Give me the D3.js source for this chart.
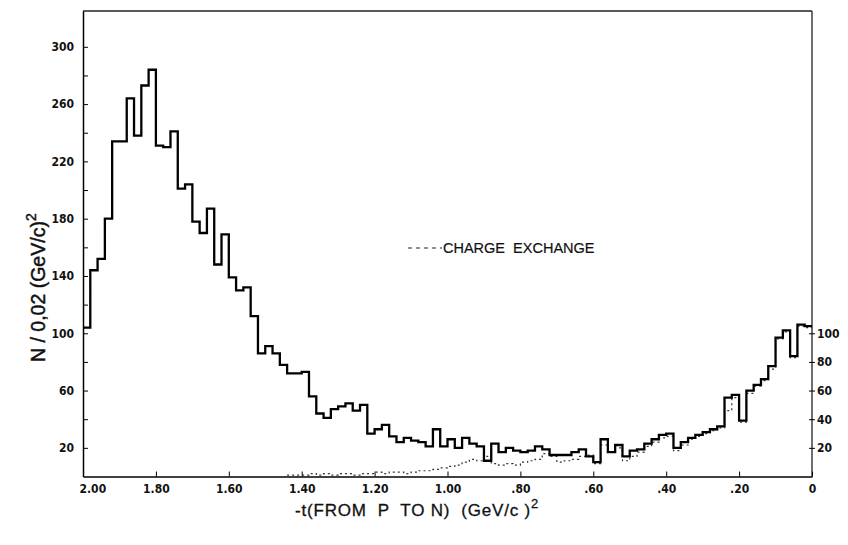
<!DOCTYPE html>
<html>
	<head>
		<meta charset="utf-8">
		<title> -t distribution </title>
		<style>
			body { margin: 0; background: #fff; }
			.lbl { font-family: "Liberation Sans Narrow", "DejaVu Sans Condensed", "Liberation Sans", sans-serif; font-weight: bold; font-size: 12px; fill: #111; }
			.ttl { font-family: "Liberation Sans", "DejaVu Sans", sans-serif; fill: #111; stroke: #111; stroke-width: 0.45px; white-space: pre; }
		</style>
	</head>
	<body>
		<script src="https://cdn.jsdelivr.net/npm/d3@7"></script>
		<script>
			// counts per 0.02 (GeV/c)^2 bin, from -t = 2.00 down to 0
			var counts = [104,144,152,180,234,234,264,238,273,284,
				231,230,241,201,204,178,170,187,148,169,
				139,130,132,112,86,91,86,78,72,72,
				73,56,44,41,47,49,51,46,50,30,
				33,36,28,24,27,25,24,21,33,21,
				26,20,27,23,21,11,23,17,20,18,
				17,18,21,19,15,15,15,17,19,14,
				10,26,17,22,14,18,19,23,26,29,
				30,20,24,27,29,31,33,35,55,57,
				39,60,64,68,77,97,102,84,106,105];
			// charge exchange (dashed), starts at bin 28 (-t = 1.44)
			var chargeStart = 28;
			var chargeEx = [1,1,
				1,2,1,2,1,2,2,1,2,2,
				3,2,3,3,2,3,4,4,5,6,
				7,8,10,12,11,14,9,8,9,8,
				10,11,12,16,14,10,11,12,14,15,
				9,22,17,20,11,14,17,21,24,27,
				28,18,22,26,28,30,32,34,46,55,
				38,58,63,67,75,96,101,83,105,104];
			var tMax = 2.0, binWidth = 0.02;
			var xTicks = [2.0, 1.8, 1.6, 1.4, 1.2, 1.0, 0.8, 0.6, 0.4, 0.2, 0];
			var xTickLabels = ["2.00", "1.80", "1.60", "1.40", "1.20", "1.00", ".80", ".60", ".40", ".20", "0"];
			var yTicks = [20, 40, 60, 80, 100, 120, 140, 160, 180, 200, 220, 240, 260, 280, 300];
			var yLabelled = [20, 60, 100, 140, 180, 220, 260, 300];
			var rightTicks = [20, 40, 60, 80, 100];

			var width = 848, height = 545;
			var xScale = d3.scaleLinear().domain([tMax, 0]).range([83, 812]);
			var yScale = d3.scaleLinear().domain([0, 325]).range([476.5, 11]);

			var svg = d3.select("body").append("svg")
				.attr("width", width)
				.attr("height", height);

			// frame: top and right edges
			svg.append("line")
				.attr("x1", xScale(tMax)).attr("x2", xScale(0))
				.attr("y1", yScale(325)).attr("y2", yScale(325))
				.attr("stroke", "#222").attr("stroke-width", 1.3);
			svg.append("line")
				.attr("x1", xScale(0)).attr("x2", xScale(0))
				.attr("y1", yScale(325)).attr("y2", yScale(0))
				.attr("stroke", "#222").attr("stroke-width", 1.3);

			// left axis, ticks pointing inward
			var yAxis = svg.append("g")
				.attr("transform", "translate(" + xScale(tMax) + ",0)")
				.call(d3.axisLeft(yScale).tickValues(yTicks).tickSize(-5).tickSizeOuter(0).tickFormat(function(d) { return yLabelled.indexOf(d) >= 0 ? d : ""; }));
			yAxis.select(".domain").attr("stroke-width", 1.5);
			yAxis.selectAll("text").attr("class", "lbl").attr("x", -9);

			// bottom axis
			var xAxis = svg.append("g")
				.attr("transform", "translate(0," + yScale(0) + ")")
				.call(d3.axisBottom(xScale).tickValues(xTicks).tickSize(-5).tickSizeOuter(0).tickFormat(function(d, i) { return xTickLabels[i]; }));
			xAxis.select(".domain").attr("stroke-width", 1.5);
			xAxis.selectAll("text").attr("class", "lbl").attr("y", 8);
			xAxis.selectAll("text").filter(function(d) { return d === tMax; })
				.attr("text-anchor", "start").attr("x", -4);

			// right axis for the charge exchange scale
			var rAxis = svg.append("g")
				.attr("transform", "translate(" + xScale(0) + ",0)")
				.call(d3.axisRight(yScale).tickValues(rightTicks).tickSize(3).tickSizeOuter(0));
			rAxis.select(".domain").remove();
			rAxis.selectAll("line").attr("x1", -3);
			rAxis.selectAll("text").attr("class", "lbl").attr("x", 5);

			// step histogram
			var hist = counts.map(function(d, i) { return { t: tMax - i * binWidth, n: d }; });
			hist.push({ t: 0, n: counts[counts.length - 1] });
			var step = d3.line()
				.x(function(d) { return xScale(d.t); })
				.y(function(d) { return yScale(d.n); })
				.curve(d3.curveStepAfter);

			var cx = chargeEx.map(function(d, i) { return { t: tMax - (i + chargeStart) * binWidth, n: d }; });
			cx.push({ t: 0, n: chargeEx[chargeEx.length - 1] });
			svg.append("path")
				.datum(cx)
				.attr("d", step)
				.attr("fill", "none")
				.attr("stroke", "#333")
				.attr("stroke-width", 1.2)
				.attr("stroke-dasharray", "2,3");

			svg.append("path")
				.datum(hist)
				.attr("d", step)
				.attr("fill", "none")
				.attr("stroke", "#000")
				.attr("stroke-width", 2.3)
				.attr("stroke-linejoin", "miter");

			// legend
			svg.append("line")
				.attr("x1", 408).attr("x2", 442)
				.attr("y1", 248).attr("y2", 248)
				.attr("stroke", "#222").attr("stroke-width", 1.2)
				.attr("stroke-dasharray", "4,4");
			svg.append("text")
				.attr("class", "ttl")
				.attr("x", 443).attr("y", 253)
				.style("font-size", "14.5px")
				.style("stroke-width", "0.2px")
				.text("CHARGE  EXCHANGE");

			// axis titles
			var yt = svg.append("text")
				.attr("class", "ttl")
				.attr("transform", "translate(45,362) rotate(-90)")
				.style("font-size", "19.5px");
			yt.append("tspan").text("N / 0,02 (GeV/c)");
			yt.append("tspan").attr("dy", -9).style("font-size", "14px").text("2");

			var xt = svg.append("text")
				.attr("class", "ttl")
				.attr("x", 295).attr("y", 516)
				.style("font-size", "17px")
				.style("letter-spacing", "0.8px")
				.style("stroke-width", "0.3px");
			xt.append("tspan").text("-t(FROM  P  TO N)  (GeV/c )");
			xt.append("tspan").attr("dy", -8).style("font-size", "13px").text("2");
		</script>
	</body>
</html>
